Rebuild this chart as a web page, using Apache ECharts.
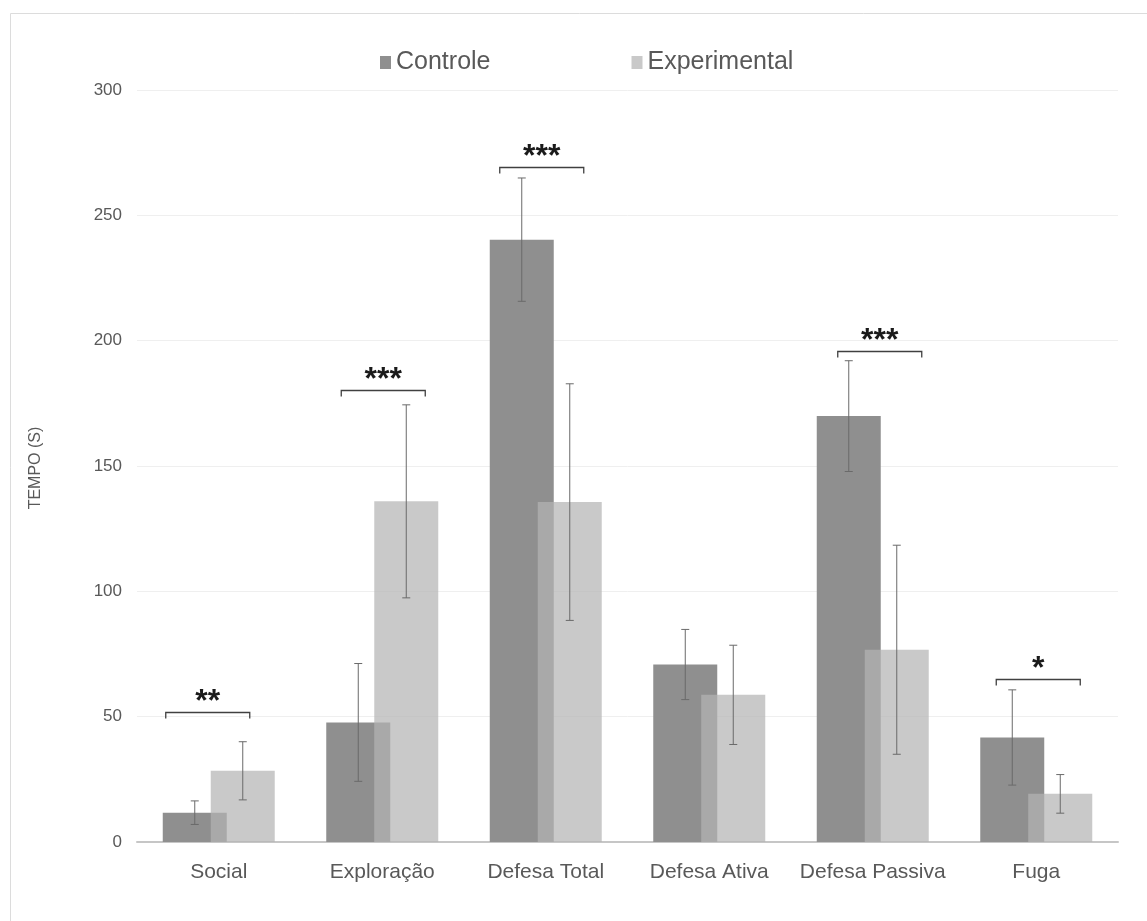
<!DOCTYPE html>
<html><head><meta charset="utf-8">
<script src="https://cdn.jsdelivr.net/npm/echarts@6/dist/echarts.min.js"></script>
<style>html,body{margin:0;padding:0;background:#fff}#c{width:1147px;height:921px}</style>
</head><body><div id="c"></div>
<script>
// ---- data ----
const categories = ['Social', 'Exploração', 'Defesa Total', 'Defesa Ativa', 'Defesa Passiva', 'Fuga'];
const controleMean = [11.7, 47.7, 240.3, 70.8, 169.9, 41.7];
const controleSD = [4.7, 23.5, 24.6, 14.0, 22.1, 19.0];
const experimentalMean = [28.4, 135.9, 135.6, 58.7, 76.7, 19.2];
const experimentalSD = [11.6, 38.5, 47.2, 19.8, 41.7, 7.7];
const yTicks = [0, 50, 100, 150, 200, 250, 300];
const sigCategory = [0, 1, 2, 4, 5];
const sigLevel = [52.0, 180.3, 269.1, 195.9, 65.1];
const sigLabel = ['**', '***', '***', '***', '*'];

// ---- layout / style constants ----
const FONT = "'Liberation Sans', Arial, sans-serif";
const BAR_W = 64, BAR_OVERLAP = 16;
const HALF = (BAR_W - BAR_OVERLAP) / 2;
const bracketShift = [-11, 1, -4, 7, 2];
const BRACKET_HALF = 42, BRACKET_TICK = 6;

const chart = echarts.init(document.getElementById('c'), null, {renderer: 'canvas'});

function errSeries(name, mean, sd, offset) {
  return {
    type: 'custom',
    name: name + ' SD',
    z: 5,
    silent: true,
    encode: {x: 0, y: [1, 2]},
    data: mean.map((m, i) => [i, m - sd[i], m + sd[i]]),
    renderItem: function (params, api) {
      const cx = api.coord([api.value(0), 0])[0] + offset;
      const yl = api.coord([api.value(0), api.value(1)])[1];
      const yh = api.coord([api.value(0), api.value(2)])[1];
      const st = {stroke: '#6a6a6a', lineWidth: 1};
      const c = 4;
      return {
        type: 'group',
        children: [
          {type: 'line', shape: {x1: cx, y1: yl, x2: cx, y2: yh}, style: st},
          {type: 'line', shape: {x1: cx - c, y1: yl, x2: cx + c, y2: yl}, style: st},
          {type: 'line', shape: {x1: cx - c, y1: yh, x2: cx + c, y2: yh}, style: st}
        ]
      };
    }
  };
}

const option = {
  backgroundColor: '#ffffff',
  animation: false,
  textStyle: {fontFamily: FONT},
  legend: {
    data: ['Controle', 'Experimental'],
    left: 375,
    top: 45,
    icon: 'rect',
    itemWidth: 11,
    itemHeight: 13,
    itemGap: 141,
    textStyle: {fontSize: 25, color: '#595959', fontFamily: FONT}
  },
  grid: {left: 137, right: 29, top: 90, bottom: 79},
  xAxis: {
    type: 'category',
    data: categories,
    axisTick: {show: false},
    axisLine: {lineStyle: {color: '#c6c6c6', width: 2}},
    axisLabel: {fontSize: 21, color: '#595959', margin: 20, fontFamily: FONT, interval: 0}
  },
  yAxis: {
    type: 'value',
    min: yTicks[0],
    max: yTicks[yTicks.length - 1],
    interval: yTicks[1] - yTicks[0],
    axisLine: {show: false},
    axisTick: {show: false},
    splitLine: {lineStyle: {color: '#efefef', width: 1}},
    axisLabel: {fontSize: 17, color: '#595959', margin: 15, fontFamily: FONT}
  },
  graphic: [
    {
      type: 'rect', left: 8, top: 11, silent: true, z: -10,
      shape: {width: 1160, height: 930},
      style: {fill: 'none', stroke: '#dcdcdc', lineWidth: 1}
    },
    {
      type: 'text', x: 36, y: 468, rotation: Math.PI / 2, silent: true,
      style: {text: 'TEMPO (S)', fontSize: 16, fill: '#595959', fontFamily: FONT,
              align: 'center', verticalAlign: 'middle'}
    }
  ],
  series: [
    {
      name: 'Controle', type: 'bar', data: controleMean,
      barWidth: BAR_W, barGap: (-BAR_OVERLAP / BAR_W * 100) + '%',
      itemStyle: {color: '#8f8f8f'}, z: 2
    },
    {
      name: 'Experimental', type: 'bar', data: experimentalMean,
      barWidth: BAR_W,
      itemStyle: {color: 'rgba(179,179,179,0.714)'}, z: 3
    },
    errSeries('Controle', controleMean, controleSD, -HALF),
    errSeries('Experimental', experimentalMean, experimentalSD, HALF),
    {
      type: 'custom',
      name: 'sig',
      z: 6,
      silent: true,
      encode: {x: 0, y: 1},
      data: sigCategory.map((c, k) => [c, sigLevel[k], k]),
      renderItem: function (params, api) {
        const k = api.value(2);
        const p = api.coord([api.value(0), api.value(1)]);
        const cx = p[0] + bracketShift[k];
        const y = Math.round(p[1]) + 0.5;
        return {
          type: 'group',
          children: [
            {type: 'polyline',
             shape: {points: [[cx - BRACKET_HALF, y + BRACKET_TICK], [cx - BRACKET_HALF, y],
                              [cx + BRACKET_HALF, y], [cx + BRACKET_HALF, y + BRACKET_TICK]]},
             style: {stroke: '#404040', lineWidth: 1.3, fill: 'none'}},
            {type: 'text', x: cx, y: y - 10,
             style: {text: sigLabel[k], fontSize: 32, fontWeight: 'bold', fill: '#1a1a1a',
                     fontFamily: FONT, align: 'center', verticalAlign: 'middle'}}
          ]
        };
      }
    }
  ]
};
chart.setOption(option);
</script>
</body></html>
